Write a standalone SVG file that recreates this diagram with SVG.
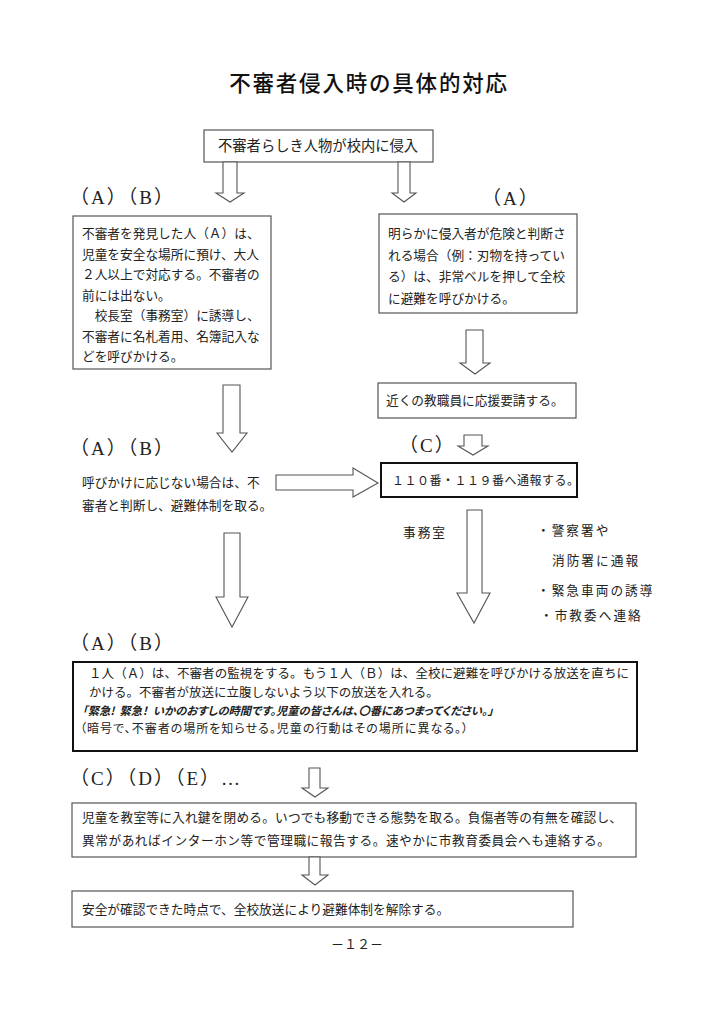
<svg xmlns="http://www.w3.org/2000/svg" width="724" height="1024" viewBox="0 0 724 1024">
<style>
.t{font-family:"Noto Sans CJK JP","Noto Sans CJK SC",sans-serif;font-size:12.7px;fill:#222}
.p{font-feature-settings:"palt" 1}
.lbl{font-family:"Liberation Serif","Noto Sans CJK JP",serif;font-size:19px;letter-spacing:2px;fill:#222}
.box{fill:#fff;stroke:#555;stroke-width:1.2}
.bold{fill:#fff;stroke:#111;stroke-width:2}
.arr{fill:#fff;stroke:#555;stroke-width:1.1;stroke-linejoin:miter}
</style>
<rect width="724" height="1024" fill="#fff"/>
<text x="369" y="91" text-anchor="middle" style="font-family:'Noto Sans CJK JP',sans-serif;font-size:21.5px;font-weight:500;letter-spacing:1.8px;fill:#111">不審者侵入時の具体的対応</text>

<g id="start">
<rect class="box" x="204" y="130" width="229" height="32"/>
<text class="t" x="218" y="151" style="font-size:14.3px">不審者らしき人物が校内に侵入</text>
</g>

<g id="left1">
<text class="lbl" x="70" y="204">（A）（B）</text>
<rect class="box" x="73" y="216" width="198" height="153"/>
<text class="t" x="82" y="238">不審者を発見した人（Ａ）は、</text>
<text class="t" x="82" y="258.5">児童を安全な場所に預け、大人</text>
<text class="t" x="82" y="279">２人以上で対応する。不審者の</text>
<text class="t" x="82" y="299.5">前には出ない。</text>
<text class="t" x="82" y="320">　校長室（事務室）に誘導し、</text>
<text class="t" x="82" y="340.5">不審者に名札着用、名簿記入な</text>
<text class="t" x="82" y="361">どを呼びかける。</text>
</g>

<g id="right1">
<text class="lbl" x="482" y="205">（A）</text>
<rect class="box" x="379" y="214" width="198" height="99"/>
<text class="t" x="388" y="238">明らかに侵入者が危険と判断さ</text>
<text class="t" x="388" y="259.5">れる場合（例：刃物を持ってい</text>
<text class="t" x="388" y="281">る）は、非常ベルを押して全校</text>
<text class="t" x="388" y="302.5">に避難を呼びかける。</text>
</g>

<g id="support">
<rect class="box" x="378" y="383" width="198" height="35"/>
<text class="t" x="386" y="405">近くの教職員に応援要請する。</text>
</g>

<g id="left2">
<text class="lbl" x="70" y="455">（A）（B）</text>
<text class="t" x="82" y="487">呼びかけに応じない場合は、不</text>
<text class="t" x="82" y="510">審者と判断し、避難体制を取る。</text>
</g>

<g id="call">
<text class="lbl" x="399" y="452">（C）</text>
<rect class="bold" x="381" y="463" width="196" height="34"/>
<text class="t" x="392" y="485" style="font-size:12px;letter-spacing:0.5px">１１０番・１１９番へ通報する。</text>
</g>

<g id="office">
<text class="t" x="403" y="537" style="letter-spacing:2px">事務室</text>
<text class="t" x="537" y="535" style="letter-spacing:2px">・警察署や</text>
<text class="t" x="552" y="565" style="letter-spacing:2px">消防署に通報</text>
<text class="t" x="537" y="595" style="letter-spacing:2px">・緊急車両の誘導</text>
<text class="t" x="540" y="620" style="letter-spacing:2px">・市教委へ連絡</text>
</g>

<g id="broadcast">
<text class="lbl" x="70" y="650">（A）（B）</text>
<rect class="bold" x="73" y="662" width="564" height="89"/>
<text class="t" x="89" y="678" textLength="540" lengthAdjust="spacing" style="font-size:12.5px">１人（Ａ）は、不審者の監視をする。もう１人（Ｂ）は、全校に避難を呼びかける放送を直ちに</text>
<text class="t" x="89" y="697" style="font-size:12.5px">かける。不審者が放送に立腹しないよう以下の放送を入れる。</text>
<text class="t p" x="82" y="715" xml:space="preserve" style="font-size:11.3px;font-style:italic;font-weight:bold">「緊急!  緊急！  いかのおすしの時間です。児童の皆さんは、〇番にあつまってください。」</text>
<text class="t p" x="80" y="733" textLength="388" lengthAdjust="spacing" style="font-size:12px">（暗号で、不審者の場所を知らせる。児童の行動はその場所に異なる。）</text>
</g>

<g id="classroom">
<text class="lbl" x="70" y="785">（C）（D）（E）…</text>
<rect class="box" x="72" y="803" width="564" height="54"/>
<text class="t" x="82" y="822" textLength="540" lengthAdjust="spacing">児童を教室等に入れ鍵を閉める。いつでも移動できる態勢を取る。負傷者等の有無を確認し、</text>
<text class="t" x="82" y="845" textLength="528" lengthAdjust="spacing">異常があればインターホン等で管理職に報告する。速やかに市教育委員会へも連絡する。</text>
</g>

<g id="release">
<rect class="box" x="72" y="891" width="501" height="36"/>
<text class="t" x="82" y="914" style="font-size:12.7px">安全が確認できた時点で、全校放送により避難体制を解除する。</text>
</g>

<text class="t" x="357" y="949" text-anchor="middle" style="font-family:'Liberation Serif','Noto Sans CJK JP',serif;font-size:13px">－１２－</text>

<g id="connectors">
<polygon class="arr" points="223,162 237,162 237,193 244,193 230,202 216,193 223,193"/>
<polygon class="arr" points="398,162 410,162 410,193 416,193 404,202 392,193 398,193"/>
<polygon class="arr" points="466,330 483,330 483,363 490,363 475,374 460,363 466,363"/>
<polygon class="arr" points="223,385 240,385 240,433 247,433 232,452 217,433 223,433"/>
<polygon class="arr" points="276,475 353,475 353,468 378,483 353,497 353,490 276,490"/>
<polygon class="arr" points="464,435 482,435 482,446 488,446 473,455 458,446 464,446"/>
<polygon class="arr" points="467,510 482,510 482,593 490,593 474,623 457,593 467,593"/>
<polygon class="arr" points="224,533 240,533 240,597 248,597 232,627 216,597 224,597"/>
<polygon class="arr" points="309,768 320,768 320,788 328,788 315,797 302,788 309,788"/>
<polygon class="arr" points="309,857 320,857 320,875 328,875 315,885 302,875 309,875"/>
</g>
</svg>
